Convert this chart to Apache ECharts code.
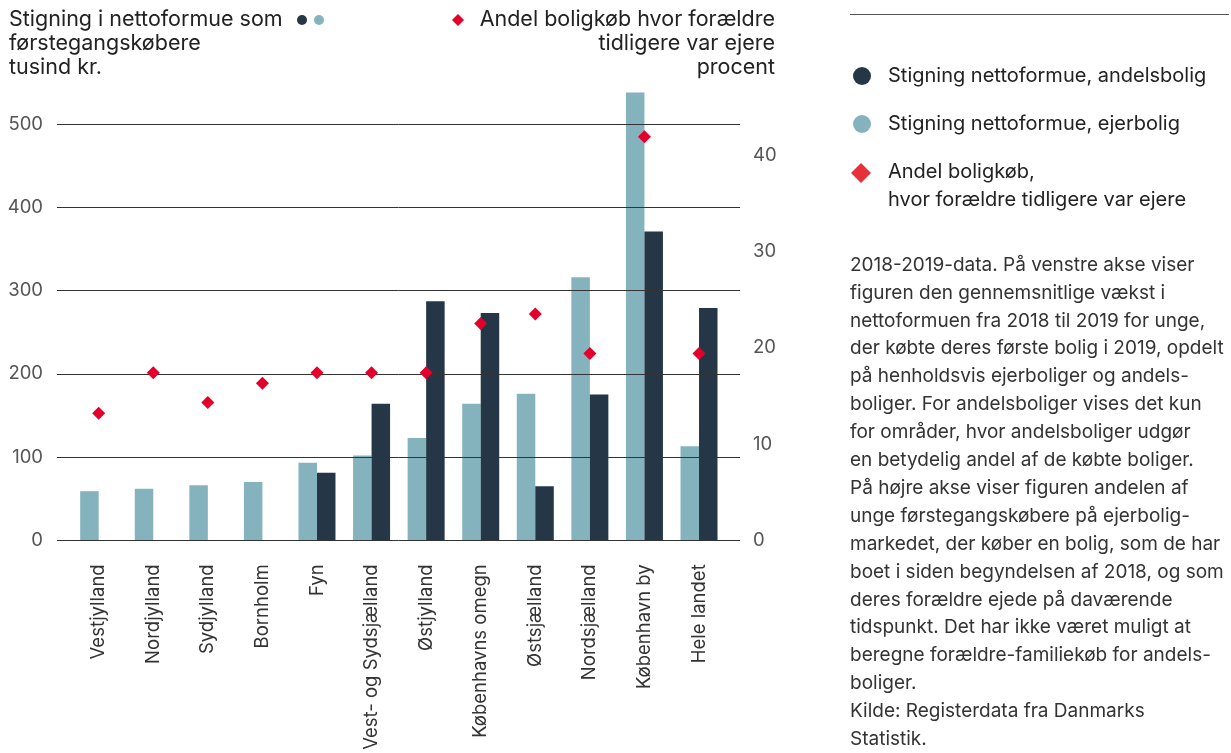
<!DOCTYPE html>
<html>
<head>
<meta charset="utf-8">
<script src="https://cdn.jsdelivr.net/npm/echarts@6/dist/echarts.min.js"></script>
<style>
  html, body { margin: 0; padding: 0; background: #fff; }
  #chart { width: 1231px; height: 753px; }
</style>
</head>
<body>
<div id="chart"></div>
<script>
// Regions
const categories = ['Vestjylland', 'Nordjylland', 'Sydjylland', 'Bornholm', 'Fyn',
  'Vest- og Sydsjælland', 'Østjylland', 'Københavns omegn', 'Østsjælland',
  'Nordsjælland', 'København by', 'Hele landet'];

// Increase in net wealth, thousand kr.
const ejerbolig   = [59, 62, 66, 70, 93, 102, 123, 164, 176, 316, 538, 113];
const andelsbolig = [null, null, null, null, 81, 164, 287, 273, 65, 175, 371, 279];

// Share of purchases where parents were previous owners, percent
const andelForaeldre = [13.2, 17.4, 14.3, 16.3, 17.4, 17.4, 17.4, 22.5, 23.5, 19.4, 41.9, 19.4];

const leftTicks  = [0, 100, 200, 300, 400, 500];
const rightTicks = [0, 10, 20, 30, 40];

const leftTitle  = ['Stigning i nettoformue som', 'førstegangskøbere', 'tusind kr.'];
const rightTitle = ['Andel boligkøb hvor forældre', 'tidligere var ejere', 'procent'];
const legendNames = ['Stigning nettoformue, andelsbolig', 'Stigning nettoformue, ejerbolig',
  'Andel boligkøb,', 'hvor forældre tidligere var ejere'];
const noteLines = [
  '2018-2019-data. På venstre akse viser',
  'figuren den gennemsnitlige vækst i',
  'nettoformuen fra 2018 til 2019 for unge,',
  'der købte deres første bolig i 2019, opdelt',
  'på henholdsvis ejerboliger og andels-',
  'boliger. For andelsboliger vises det kun',
  'for områder, hvor andelsboliger udgør',
  'en betydelig andel af de købte boliger.',
  'På højre akse viser figuren andelen af',
  'unge førstegangskøbere på ejerbolig-',
  'markedet, der køber en bolig, som de har',
  'boet i siden begyndelsen af 2018, og som',
  'deres forældre ejede på daværende',
  'tidspunkt. Det har ikke været muligt at',
  'beregne forældre-familiekøb for andels-',
  'boliger.',
  'Kilde: Registerdata fra Danmarks',
  'Statistik.'
];

const DARK = '#253746';
const LIGHT = '#84b3be';
const RED = '#e4002b';
const FONT = 'Inter';
const TEXT = '#222';

const LEFT_MAX = 550;
const RIGHT_MAX = 47.54;
const GRID_TOP = 82.4;
const GRID_BOTTOM = 753 - 540.3;

const chart = echarts.init(document.getElementById('chart'));

const graphics = [];
// header, left
leftTitle.forEach((t, i) => {
  graphics.push({ type: 'text', x: 9, y: 20 + i * 24,
    style: { text: t, font: '21.5px ' + FONT, fill: TEXT, verticalAlign: 'middle' } });
});
graphics.push({ type: 'circle', shape: { cx: 302, cy: 20, r: 5 }, style: { fill: DARK } });
graphics.push({ type: 'circle', shape: { cx: 319, cy: 20, r: 5 }, style: { fill: LIGHT } });
// header, right
rightTitle.forEach((t, i) => {
  graphics.push({ type: 'text', x: 775, y: 20 + i * 24,
    style: { text: t, font: '21.5px ' + FONT, fill: TEXT, align: 'right', verticalAlign: 'middle' } });
});
graphics.push({ type: 'polygon', shape: { points: [[458, 14], [464, 20], [458, 26], [452, 20]] }, style: { fill: RED } });

// right panel
graphics.push({ type: 'line', shape: { x1: 850, y1: 14.5, x2: 1229, y2: 14.5 }, style: { stroke: '#555', lineWidth: 1 } });
graphics.push({ type: 'circle', shape: { cx: 862, cy: 76, r: 9 }, style: { fill: DARK } });
graphics.push({ type: 'circle', shape: { cx: 862, cy: 124, r: 9 }, style: { fill: LIGHT } });
graphics.push({ type: 'polygon', shape: { points: [[861, 163], [871, 173], [861, 183], [851, 173]] }, style: { fill: '#e8303a' } });
[[legendNames[0], 76], [legendNames[1], 124], [legendNames[2], 172], [legendNames[3], 200]].forEach(([t, y]) => {
  graphics.push({ type: 'text', x: 888, y: y,
    style: { text: t, font: '20px ' + FONT, fill: TEXT, verticalAlign: 'middle' } });
});
noteLines.forEach((t, i) => {
  graphics.push({ type: 'text', x: 850, y: 265 + i * 27.9,
    style: { text: t, font: '19px ' + FONT, fill: '#333', verticalAlign: 'middle' } });
});

const option = {
  animation: false,
  backgroundColor: '#fff',
  textStyle: { fontFamily: FONT },
  grid: [
    { left: 57, right: 1231 - 740, top: GRID_TOP, bottom: GRID_BOTTOM },
    { left: 71.4, right: 1231 - 726.3, top: GRID_TOP, bottom: GRID_BOTTOM }
  ],
  xAxis: [
    { type: 'value', gridIndex: 0, show: false, min: 0, max: 1 },
    { type: 'category', gridIndex: 1, data: categories,
      axisLine: { show: false }, axisTick: { show: false },
      axisLabel: { rotate: 90, margin: 24, fontSize: 18.5, color: '#333', fontFamily: FONT, interval: 0 } }
  ],
  yAxis: [
    { type: 'value', gridIndex: 0, min: 0, max: LEFT_MAX, interval: 100, z: 10,
      axisLine: { show: false }, axisTick: { show: false },
      axisLabel: { margin: 14, fontSize: 18.5, color: '#555', fontFamily: FONT, showMaxLabel: false,
        formatter: v => (leftTicks.includes(v) ? String(v) : '') },
      splitLine: { show: true, showMaxLine: false, lineStyle: { color: '#333', width: 1 } } },
    { type: 'value', gridIndex: 0, position: 'right', min: 0, max: RIGHT_MAX, interval: 10,
      axisLine: { show: false }, axisTick: { show: false }, splitLine: { show: false },
      axisLabel: { margin: 13, fontSize: 18.5, color: '#555', fontFamily: FONT, showMaxLabel: false,
        formatter: v => (rightTicks.includes(v) ? String(v) : '') } },
    { type: 'value', gridIndex: 1, min: 0, max: LEFT_MAX, show: false, splitLine: { show: false } },
    { type: 'value', gridIndex: 1, min: 0, max: RIGHT_MAX, show: false, splitLine: { show: false } }
  ],
  series: [
    { name: 'Stigning nettoformue, ejerbolig', type: 'bar', xAxisIndex: 1, yAxisIndex: 2,
      data: ejerbolig, barWidth: 18.5, barGap: '0%', itemStyle: { color: LIGHT }, z: 2 },
    { name: 'Stigning nettoformue, andelsbolig', type: 'bar', xAxisIndex: 1, yAxisIndex: 2,
      data: andelsbolig, barWidth: 18.5, barGap: '0%', itemStyle: { color: DARK }, z: 2 },
    { name: 'Andel boligkøb, hvor forældre tidligere var ejere', type: 'scatter', xAxisIndex: 1, yAxisIndex: 3,
      data: andelForaeldre, symbol: 'diamond', symbolSize: 13, itemStyle: { color: RED, opacity: 1 }, z: 20 }
  ],
  graphic: graphics
};

chart.setOption(option);
</script>
</body>
</html>
